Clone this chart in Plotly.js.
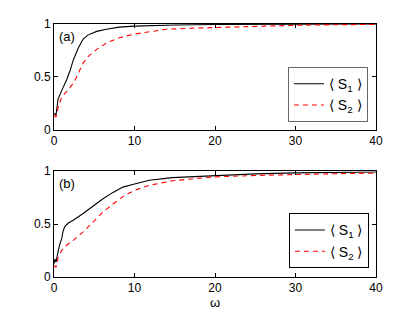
<!DOCTYPE html>
<html><head><meta charset="utf-8">
<script src="https://cdn.plot.ly/plotly-3.0.1.min.js"></script>
<style>html,body{margin:0;padding:0;background:#fff}#c{width:415px;height:313px}</style>
</head><body><div id="c"></div>
<script>
// Panel (a)
const xa1 = [0, 0.12, 0.25, 0.5, 0.95, 1.56, 2.0, 2.4, 3.0, 3.6, 4.2, 5.3, 6.5, 8.1, 10, 12, 15, 20, 25, 30, 35, 40];
const ya1 = [0.15, 0.15, 0.14, 0.29, 0.37, 0.47, 0.56, 0.66, 0.77, 0.855, 0.895, 0.93, 0.95, 0.97, 0.98, 0.985, 0.99, 0.995, 0.997, 0.998, 0.999, 1.0];
const xa2 = [0, 0.25, 0.53, 0.95, 1.56, 2.4, 3.0, 3.6, 4.2, 5.3, 6.5, 8.1, 10, 11.9, 13.9, 17, 20.6, 25, 30, 35, 40];
const ya2 = [0.14, 0.12, 0.215, 0.31, 0.36, 0.44, 0.53, 0.63, 0.69, 0.76, 0.82, 0.87, 0.905, 0.927, 0.95, 0.96, 0.969, 0.98, 0.988, 0.993, 0.997];
// Panel (b)
const xb1 = [0, 0.12, 0.25, 0.41, 0.53, 0.74, 0.95, 1.15, 1.36, 1.77, 2.39, 3.62, 4.86, 6.09, 7.33, 8.56, 10, 11.85, 14.7, 19.7, 25, 30, 35, 40];
const yb1 = [0.126, 0.17, 0.14, 0.22, 0.25, 0.315, 0.36, 0.44, 0.48, 0.51, 0.536, 0.6, 0.67, 0.74, 0.80, 0.85, 0.88, 0.915, 0.94, 0.96, 0.975, 0.985, 0.99, 0.993];
const xb2 = [0, 0.25, 0.53, 0.95, 1.56, 2.39, 3.62, 4.86, 6.09, 7.33, 8.56, 10, 11.85, 14.7, 19.7, 25, 30, 35, 40];
const yb2 = [0.11, 0.09, 0.19, 0.25, 0.30, 0.347, 0.426, 0.52, 0.615, 0.69, 0.76, 0.82, 0.867, 0.91, 0.946, 0.96, 0.97, 0.977, 0.982];

const names = ['\u27E8 S<sub>1</sub> \u27E9', '\u27E8 S<sub>2</sub> \u27E9'];
const xTicks = [0, 10, 20, 30, 40];
const yTicks = [0, 0.5, 1];
const yTickText = ['0', '0.5', '1'];

const solid = {color: '#000', width: 1.1, dash: 'solid'};
const dashed = {color: '#ff0000', width: 1.1, dash: '5px,4px'};

const data = [
  {x: xa1, y: ya1, type: 'scatter', mode: 'lines', name: names[0], line: solid, xaxis: 'x', yaxis: 'y', legend: 'legend'},
  {x: xa2, y: ya2, type: 'scatter', mode: 'lines', name: names[1], line: dashed, xaxis: 'x', yaxis: 'y', legend: 'legend'},
  {x: xb1, y: yb1, type: 'scatter', mode: 'lines', name: names[0], line: solid, xaxis: 'x2', yaxis: 'y2', legend: 'legend2'},
  {x: xb2, y: yb2, type: 'scatter', mode: 'lines', name: names[1], line: dashed, xaxis: 'x2', yaxis: 'y2', legend: 'legend2'}
];

const font = {family: 'Liberation Sans, Arial, sans-serif', size: 12, color: '#000'};
const axBase = {
  range: [0, 40], tickvals: xTicks, ticks: 'inside', ticklen: 4, tickcolor: '#000',
  showline: true, linecolor: '#000', linewidth: 1, mirror: 'ticks', showgrid: false, zeroline: false,
  tickfont: font
};
const yBase = {
  range: [0, 1], tickvals: yTicks, ticktext: yTickText, ticks: 'inside', ticklen: 4, tickcolor: '#000',
  showline: true, linecolor: '#000', linewidth: 1, mirror: 'ticks', showgrid: false, zeroline: false,
  tickfont: font
};
const legBase = {
  bgcolor: '#fff', borderwidth: 1, font: {family: font.family, size: 14, color: '#000'},
  xanchor: 'right', yanchor: 'bottom', tracegroupgap: 0, itemwidth: 30
};

const layout = {
  width: 415, height: 313,
  margin: {l: 54, r: 39, t: 24, b: 36},
  paper_bgcolor: '#fff', plot_bgcolor: '#fff',
  font: font,
  showlegend: true,
  xaxis: Object.assign({}, axBase, {domain: [0, 1], anchor: 'y'}),
  yaxis: Object.assign({}, yBase, {domain: [0.582, 1], anchor: 'x'}),
  xaxis2: Object.assign({}, axBase, {domain: [0, 1], anchor: 'y2', title: {text: '\u03C9', font: {family: font.family, size: 13}, standoff: 0}}),
  yaxis2: Object.assign({}, yBase, {domain: [0, 0.418], anchor: 'x2'}),
  legend: Object.assign({}, legBase, {x: 0.975, y: 0.612, bordercolor: '#666'}),
  legend2: Object.assign({}, legBase, {x: 0.978, y: 0.034, bordercolor: '#000'}),
  annotations: [
    {text: '(a)', xref: 'paper', yref: 'paper', x: 0.008, y: 0.99, xanchor: 'left', yanchor: 'top', showarrow: false, font: {family: font.family, size: 13}},
    {text: '(b)', xref: 'paper', yref: 'paper', x: 0.008, y: 0.408, xanchor: 'left', yanchor: 'top', showarrow: false, font: {family: font.family, size: 13}}
  ]
};

Plotly.newPlot('c', data, layout, {displayModeBar: false, staticPlot: true});
</script></body></html>
